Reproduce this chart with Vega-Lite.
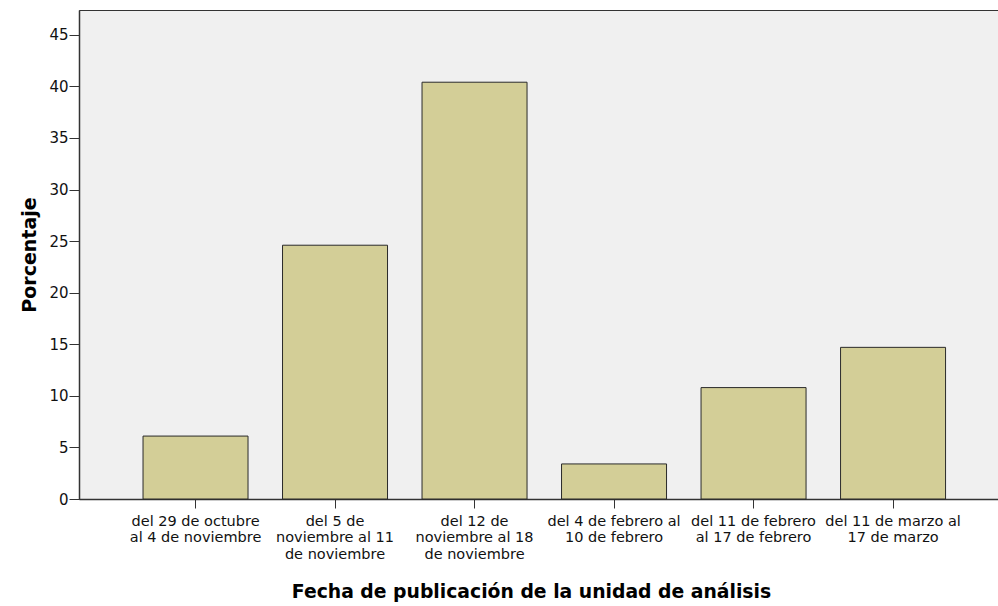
{
  "$schema": "https://vega.github.io/schema/vega-lite/v6.json",
  "autosize": {"type": "none"},
  "width": 920,
  "height": 489,
  "padding": {"left": 79, "top": 10, "right": 0, "bottom": 107},
  "background": "#ffffff",
  "config": {
    "view": {"fill": "#f0f0f0", "stroke": "#333333", "strokeWidth": 1},
    "font": "DejaVu Sans"
  },
  "data": {
    "values": [
      {"fecha": "del 29 de octubre|al 4 de noviembre", "porcentaje": 6.1},
      {"fecha": "del 5 de|noviembre al 11|de noviembre", "porcentaje": 24.6},
      {"fecha": "del 12 de|noviembre al 18|de noviembre", "porcentaje": 40.4},
      {"fecha": "del 4 de febrero al|10 de febrero", "porcentaje": 3.4},
      {"fecha": "del 11 de febrero|al 17 de febrero", "porcentaje": 10.8},
      {"fecha": "del 11 de marzo al|17 de marzo", "porcentaje": 14.7}
    ]
  },
  "mark": {"type": "bar", "fill": "#d3ce97", "stroke": "#2a2a2a", "strokeWidth": 1},
  "encoding": {
    "x": {
      "field": "fecha",
      "type": "nominal",
      "sort": null,
      "scale": {"paddingInner": 0.2473, "paddingOuter": 0.421, "align": 0.545},
      "axis": {
        "title": "Fecha de publicación de la unidad de análisis",
        "titleFont": "DejaVu Sans",
        "titleFontSize": 18.8,
        "titleFontWeight": "bold",
        "titleColor": "#000000",
        "titlePadding": 22,
        "titleX": 452,
        "labelExpr": "split(datum.label, '|')",
        "labelAngle": 0,
        "labelFont": "DejaVu Sans",
        "labelFontSize": 14.5,
        "labelLineHeight": 16.5,
        "labelColor": "#111111",
        "labelPadding": 6,
        "labelLimit": 0,
        "labelOverlap": false,
        "tickSize": 9,
        "tickColor": "#333333",
        "domainColor": "#333333",
        "domainWidth": 1.5
      }
    },
    "y": {
      "field": "porcentaje",
      "type": "quantitative",
      "scale": {"domain": [0, 47.4], "nice": false},
      "axis": {
        "title": "Porcentaje",
        "titleFont": "DejaVu Sans",
        "titleFontSize": 19,
        "titleFontWeight": "bold",
        "titleColor": "#000000",
        "titlePadding": 9,
        "values": [0, 5, 10, 15, 20, 25, 30, 35, 40, 45],
        "labelFont": "DejaVu Sans",
        "labelFontSize": 15,
        "labelColor": "#111111",
        "labelPadding": 1,
        "tickSize": 10,
        "tickColor": "#333333",
        "domainColor": "#333333",
        "domainWidth": 1.5,
        "grid": false
      }
    }
  }
}
